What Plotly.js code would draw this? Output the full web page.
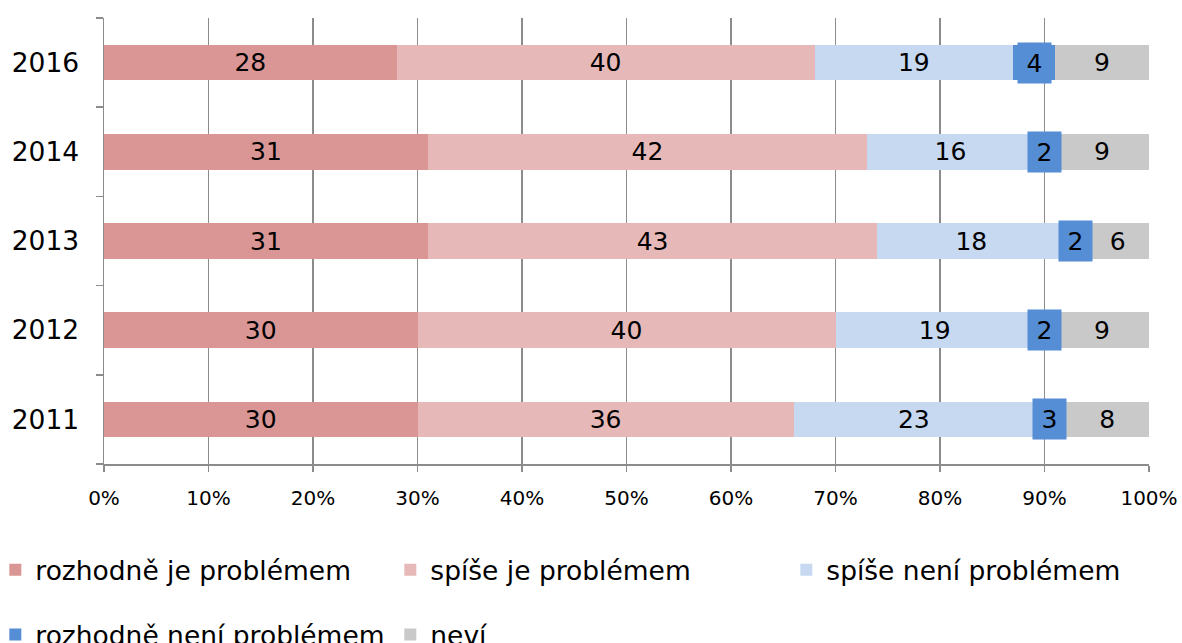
<!DOCTYPE html>
<html>
<head>
<meta charset="utf-8">
<script src="https://cdn.plot.ly/plotly-3.0.1.min.js"></script>
<style>html,body{margin:0;padding:0;background:#fff;}#chart{width:1182px;height:643px;}</style>
</head>
<body>
<div id="chart"></div>
<script>
const categories = ['2011', '2012', '2013', '2014', '2016'];
const rozhodneJe = [30, 30, 31, 31, 28];
const spiseJe = [36, 40, 43, 42, 40];
const spiseNeni = [23, 19, 18, 16, 19];
const rozhodneNeni = [3, 2, 2, 2, 4];
const nevi = [8, 9, 6, 9, 9];
const seriesNames = ['rozhodně je problémem', 'spíše je problémem', 'spíše není problémem', 'rozhodně není problémem', 'neví'];
const tickLabels = ['0%', '10%', '20%', '30%', '40%', '50%', '60%', '70%', '80%', '90%', '100%'];
const tickValues = [0, 10, 20, 30, 40, 50, 60, 70, 80, 90, 100];

const colors = ['#D99694', '#E6B9B8', '#C6D9F1', '#558ED5', '#C9C9C9'];
const FONT = 'DejaVu Sans, Verdana, sans-serif';
const series = [rozhodneJe, spiseJe, spiseNeni, rozhodneNeni, nevi];
const legendOf = ['legend', 'legend', 'legend3', 'legend2', 'legend2'];

const traces = series.map((vals, i) => ({
  type: 'bar',
  orientation: 'h',
  name: seriesNames[i],
  y: categories,
  x: vals,
  marker: {color: colors[i], line: {width: 0}},
  text: i === 3 ? null : vals.map(String),
  textposition: i === 3 ? 'none' : 'inside',
  insidetextanchor: 'middle',
  constraintext: 'none',
  textfont: {family: FONT, size: 25, color: '#000'},
  hoverinfo: 'none',
  legend: legendOf[i]
}));

// labels with a filled box for the small dark-blue segment
const annotations = categories.map((c, k) => {
  const start = rozhodneJe[k] + spiseJe[k] + spiseNeni[k];
  return {
    x: start + rozhodneNeni[k] / 2,
    y: k,
    xref: 'x', yref: 'y',
    text: String(rozhodneNeni[k]),
    showarrow: false,
    font: {family: FONT, size: 25, color: '#000'},
    bgcolor: colors[3],
    width: 33,
    height: 40,
    borderpad: 0
  };
});

const legendCommon = {
  orientation: 'h',
  xanchor: 'left',
  yanchor: 'middle',
  font: {family: FONT, size: 26.5, color: '#000'},
  entrywidth: 350,
  entrywidthmode: 'pixels',
  bgcolor: 'rgba(0,0,0,0)',
  borderwidth: 0,
  traceorder: 'normal'
};

const layout = {
  width: 1182,
  height: 643,
  margin: {l: 104, r: 33, t: 18, b: 179, autoexpand: false},
  paper_bgcolor: '#fff',
  plot_bgcolor: '#fff',
  barmode: 'stack',
  bargap: 0.6,
  font: {family: FONT, color: '#000'},
  showlegend: true,
  xaxis: {
    range: [0, 100],
    tickvals: tickValues,
    ticktext: tickLabels,
    showgrid: true,
    gridcolor: '#8C8C8C',
    gridwidth: 1.5,
    zeroline: false,
    showline: true,
    linecolor: '#8C8C8C',
    linewidth: 1.5,
    ticks: 'outside',
    ticklen: 6,
    tickcolor: '#8C8C8C',
    tickwidth: 1.5,
    ticklabelstandoff: 9,
    tickfont: {family: FONT, size: 20, color: '#000'},
    fixedrange: true
  },
  yaxis: {
    type: 'category',
    range: [-0.5, 4.5],
    showgrid: false,
    zeroline: false,
    showline: true,
    linecolor: '#8C8C8C',
    linewidth: 1.5,
    ticks: 'outside',
    tickson: 'boundaries',
    ticklen: 7,
    tickcolor: '#8C8C8C',
    tickwidth: 1.5,
    ticklabelstandoff: 18,
    tickfont: {family: FONT, size: 26.5, color: '#000'},
    fixedrange: true
  },
  legend: Object.assign({}, legendCommon, {x: -0.104, y: -0.238}),
  legend3: Object.assign({}, legendCommon, {x: -0.104 + 791 / 1045, y: -0.238}),
  legend2: Object.assign({}, legendCommon, {x: -0.104, y: -0.383}),
  annotations: annotations
};

Plotly.newPlot('chart', traces, layout, {staticPlot: true, displayModeBar: false});
</script>
</body>
</html>
